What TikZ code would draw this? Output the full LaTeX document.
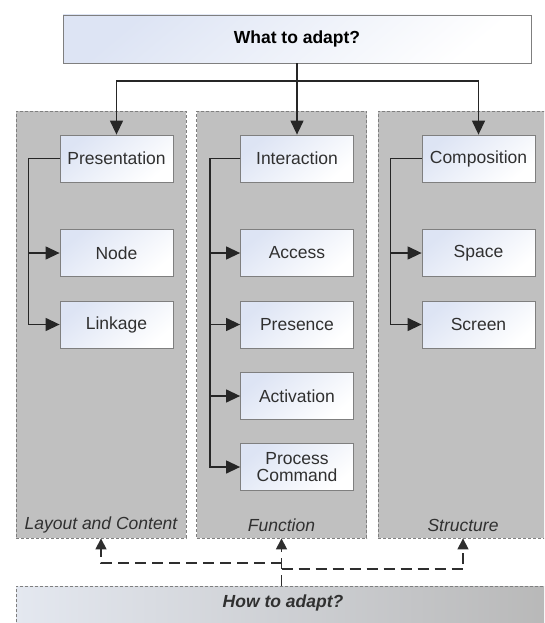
\documentclass[tikz,border=0pt]{standalone}
\usepackage{fontspec}
\setmainfont{Liberation Sans}
\usetikzlibrary{arrows.meta}

\definecolor{panelgray}{HTML}{C0C0C0}
\definecolor{edgegray}{HTML}{7F7F7F}
\definecolor{boxblue}{HTML}{DDE4F4}
\definecolor{txtgray}{HTML}{303030}
\definecolor{howleft}{HTML}{E4E8F0}
\definecolor{howright}{HTML}{B8B8B8}
\definecolor{linkgray}{HTML}{2E2E2E}

\begin{document}
\begin{tikzpicture}[x=1pt,y=-1pt,
  txt/.style={font=\fontsize{17.5}{17}\selectfont},
  panel/.style={draw=edgegray, dash pattern=on 3pt off 2pt, line width=0.8pt,
    fill=panelgray, minimum width=170pt, minimum height=427pt, inner sep=0pt},
  item/.style={txt, draw=edgegray, line width=0.8pt, top color=boxblue,
    bottom color=white, shading angle=40, minimum width=113pt,
    minimum height=47pt, inner sep=0pt, text=txtgray, align=center},
  paneltitle/.style={font=\itshape\fontsize{17.5}{17}\selectfont, text=txtgray},
  conn/.style={line width=1.3pt, black!85},
  solidtip/.style={-{Triangle[length=14pt,width=13pt]}},
  dconn/.style={line width=1.3pt, linkgray, dash pattern=on 11pt off 6pt,
    -{Triangle[length=11pt,width=11pt]}},
]
\useasboundingbox (0,0) rectangle (544,623);
\clip (0,0) rectangle (544,623);
\fill[white] (0,0) rectangle (544,623);

% top question
\node[draw=edgegray, line width=0.8pt, top color=boxblue, bottom color=white,
  shading angle=40, minimum width=468pt, minimum height=48pt, inner sep=0pt,
  font=\bfseries\fontsize{17.5}{17}\selectfont] (what) at (297,39) {What to adapt?};

% the three groups
\node[panel] (layout) at (101,324.5) {};
\node[panel] (func)   at (281.5,324.5) {};
\node[panel] (struct) at (463,324.5) {};

\node[paneltitle] (layoutlbl) at (101,525) {Layout and Content};
\node[paneltitle] (funclbl)   at (281.5,525) {Function};
\node[paneltitle] (structlbl) at (463,525) {Structure};

% layout and content
\node[item] (pres) at (116.5,158.5) {Presentation};
\node[item] (node) at (116.5,253) {Node};
\node[item] (link) at (116.5,324.5) {Linkage};

% function
\node[item] (inter) at (297,158.5) {Interaction};
\node[item] (acc)   at (297,253) {Access};
\node[item] (presc) at (297,324.5) {Presence};
\node[item] (act)   at (297,396) {Activation};
\node[item] (proc)  at (297,467) {Process\\Command};

% structure
\node[item] (comp)   at (478.5,158.5) {Composition};
\node[item] (space)  at (478.5,253) {Space};
\node[item] (screen) at (478.5,324.5) {Screen};

% bottom question
\node[draw=edgegray, dash pattern=on 3pt off 2pt, line width=0.8pt,
  left color=howleft, right color=howright, minimum width=534pt,
  minimum height=44pt, inner sep=0pt,
  label={[font=\bfseries\itshape\fontsize{17.5}{17}\selectfont, text=txtgray, yshift=5pt]center:How to adapt?}]
  (how) at (283,608) {};

% what -> groups
\coordinate (split) at (297,81);
\draw[conn, solidtip] (what.south) -- (inter.north);
\draw[conn, solidtip] (split) -| (pres.north);
\draw[conn, solidtip] (split) -| (comp.north);

% trunks inside the groups
\draw[conn, solidtip] (pres.west) -- ++(-31,0) |- (node.west);
\draw[conn, solidtip] (pres.west) -- ++(-31,0) |- (link.west);

\draw[conn, solidtip] (inter.west) -- ++(-30,0) |- (acc.west);
\draw[conn, solidtip] (inter.west) -- ++(-30,0) |- (presc.west);
\draw[conn, solidtip] (inter.west) -- ++(-30,0) |- (act.west);
\draw[conn, solidtip] (inter.west) -- ++(-30,0) |- (proc.west);

\draw[conn, solidtip] (comp.west) -- ++(-31,0) |- (space.west);
\draw[conn, solidtip] (comp.west) -- ++(-31,0) |- (screen.west);

% how -> groups
\coordinate (jl) at (281.5,563);
\coordinate (jr) at (281.5,569);
\draw[dconn] (func.south |- how.north) -- (func.south);
\draw[dconn] (jl) -| (layout.south);
\draw[dconn] (jr) -| (struct.south);
\end{tikzpicture}
\end{document}
